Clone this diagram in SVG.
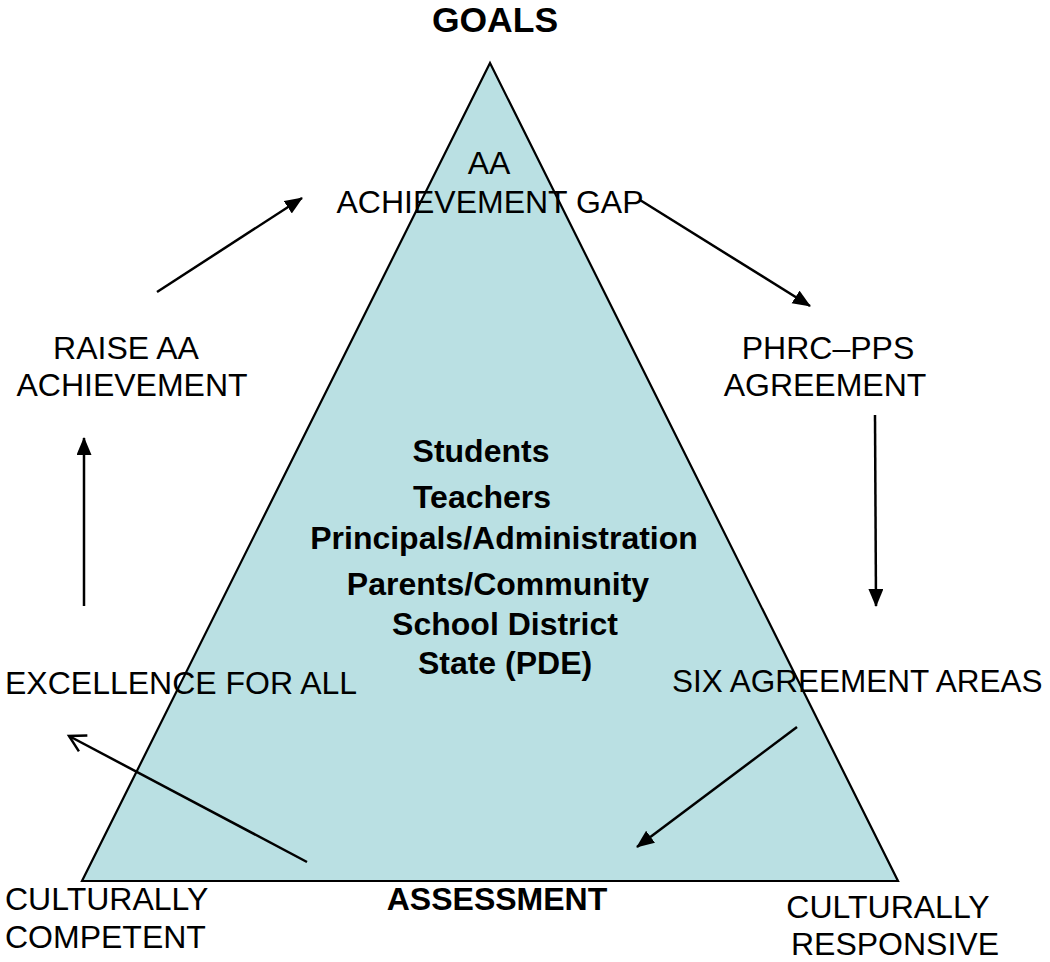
<svg xmlns="http://www.w3.org/2000/svg" width="1050" height="962" viewBox="0 0 1050 962">
<style>
.t{font-family:"Liberation Sans",Arial,sans-serif;font-size:32px;fill:#000}
.b{font-weight:bold}
.c{text-anchor:middle}
.ln{stroke:#000;stroke-width:2.5;fill:none}
</style>
<defs>
<marker id="ah" markerUnits="userSpaceOnUse" markerWidth="18" markerHeight="16" refX="17" refY="7.5" orient="auto" viewBox="0 0 18 16">
<path d="M0,0 L18,7.5 L0,15 z" fill="#000"/>
</marker>
<marker id="oh" markerUnits="userSpaceOnUse" markerWidth="24" markerHeight="24" refX="20" refY="12" orient="auto" viewBox="0 0 24 24">
<path d="M4,3 L20,12 L4,21" fill="none" stroke="#000" stroke-width="2.5"/>
</marker>
</defs>
<rect width="1050" height="962" fill="#fff"/>
<g id="triangle">
<polygon points="490,63 82,881 898,881" fill="#BAE0E3" stroke="#000" stroke-width="2.2" stroke-linejoin="miter"/>
</g>
<g id="connectors">
<line class="ln" x1="157" y1="292" x2="302" y2="198" marker-end="url(#ah)"/>
<line class="ln" x1="640" y1="200" x2="810" y2="306" marker-end="url(#ah)"/>
<line class="ln" x1="875" y1="415" x2="876" y2="606" marker-end="url(#ah)"/>
<line class="ln" x1="84" y1="606" x2="84" y2="438" marker-end="url(#ah)"/>
<line class="ln" x1="307" y1="862" x2="69" y2="736" marker-end="url(#oh)"/>
<line class="ln" x1="797" y1="727" x2="637" y2="847" marker-end="url(#ah)"/>
</g>
<g id="goals"><text class="t b c" x="495" y="32" style="font-size:35.5px">GOALS</text></g>
<g id="gap"><text class="t c" x="489" y="174">AA</text><text class="t c" x="490" y="213">ACHIEVEMENT GAP</text></g>
<g id="raise"><text class="t c" x="126" y="359">RAISE AA</text><text class="t c" x="132" y="396">ACHIEVEMENT</text></g>
<g id="phrc"><text class="t c" x="828" y="359">PHRC–PPS</text><text class="t c" x="825" y="396">AGREEMENT</text></g>
<g id="stakeholders">
<text class="t b c" x="481" y="462">Students</text>
<text class="t b c" x="482" y="508">Teachers</text>
<text class="t b c" x="504" y="549">Principals/Administration</text>
<text class="t b c" x="498" y="595">Parents/Community</text>
<text class="t b c" x="505" y="635">School District</text>
<text class="t b c" x="505" y="674">State (PDE)</text>
</g>
<g id="excellence"><text class="t" x="5" y="694">EXCELLENCE FOR ALL</text></g>
<g id="six"><text class="t" x="672" y="692" style="font-size:31.5px">SIX AGREEMENT AREAS</text></g>
<g id="competent"><text class="t" x="5" y="910">CULTURALLY</text><text class="t" x="5" y="948">COMPETENT</text></g>
<g id="assessment"><text class="t b c" x="497" y="910">ASSESSMENT</text></g>
<g id="responsive"><text class="t c" x="888" y="918">CULTURALLY</text><text class="t c" x="895" y="955">RESPONSIVE</text></g>
</svg>
